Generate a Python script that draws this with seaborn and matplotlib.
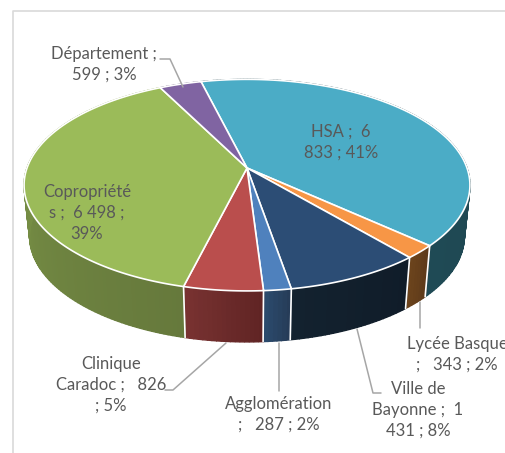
import numpy as np
import matplotlib
matplotlib.use("Agg")
import matplotlib.pyplot as plt
import seaborn as sns

categories = ["HSA", "Lycée Basque", "Ville de Bayonne", "Agglomération",
              "Clinique Caradoc", "Copropriétés", "Département"]
values = [6833, 343, 1431, 287, 826, 6498, 599]
top_colors = ["#4BACC6", "#F79646", "#2C4D75", "#4F81BD", "#BA4E4D", "#9BBB59", "#8064A2"]
wall_left = ["#1F4A55", "#6B431C", "#13222F", "#2B4A6C", "#783231", "#84A04C", "#5A4672"]
wall_right = ["#1D4049", "#5E3A1A", "#101C29", "#263C58", "#602424", "#66793C", "#4C3B60"]
labels = ["HSA ;  6\n833 ; 41%", "Lycée Basque\n;   343 ; 2%", "Ville de\nBayonne ;  1\n431 ; 8%",
          "Agglomération\n;   287 ; 2%", "Clinique\nCaradoc ;   826\n; 5%",
          "Copropriété\ns ;  6 498 ;\n39%", "Département ;\n599 ; 3%"]
label_xy = [(341, 142), (457, 354), (418, 410), (279, 414), (111, 385), (87, 213), (104, 64)]
leaders = [None,
           [(420, 302), (420, 328)],
           [(357, 329), (373, 393), (381, 393)],
           [(279, 343), (279, 391)],
           [(226, 343), (173, 390), (165, 390)],
           None,
           [(183, 87), (170, 59), (160, 59)]]

sns.set_theme(style="white")
plt.rcParams["font.family"] = ["Lato", "DejaVu Sans"]

CX, CY, A, B, K = 247.0, 168.0, 103.0, 220.0, 0.162
DEPTH, SHRINK, START = 51.0, 0.975, -14.0


def project(theta, r=1.0, low=False):
    u, v = r * np.sin(theta), r * np.cos(theta)
    x = B * u / (1 + K * v)
    y = CY - A * v / (1 + K * v)
    if low:
        return CX + SHRINK * x, y + DEPTH
    return CX + x, y


fig, ax = plt.subplots(figsize=(5.05, 4.53), dpi=100)
fig.subplots_adjust(0, 0, 1, 1)
ax.set_xlim(0, 505)
ax.set_ylim(453, 0)
ax.axis("off")

ax.plot([12.5, 12.5, 505], [453, 10.5, 10.5], color="#D9D9D9", lw=1.2)

fracs = np.array(values) / np.sum(values)
edges = np.radians(START) + 2 * np.pi * np.concatenate([[0], np.cumsum(fracs)])

for i in range(len(values)):
    th = np.linspace(edges[i], edges[i + 1], max(int(fracs[i] * 360), 3) + 1)
    c0, c1 = np.array(matplotlib.colors.to_rgb(wall_left[i])), np.array(matplotlib.colors.to_rgb(wall_right[i]))
    for j in range(len(th) - 1):
        t = 1 - j / max(len(th) - 2, 1)  # clockwise on the front runs right to left
        col = c0 * (1 - t) + c1 * t
        seg = np.array([th[j], th[j + 1]])
        xt, yt = project(seg)
        xb, yb = project(seg, low=True)
        ax.fill(np.r_[xt, xb[::-1]], np.r_[yt, yb[::-1]], facecolor=col, edgecolor=col, lw=1.0, zorder=2)
for e in edges:
    if np.cos(e) < 0:
        xt, yt = project(e)
        xb, yb = project(e, low=True)
        ax.plot([xt, xb], [yt, yb], color="white", lw=1.2, zorder=3)

for i in range(len(values)):
    th = np.linspace(edges[i], edges[i + 1], 120)
    x, y = project(th)
    ax.fill(np.r_[CX, x], np.r_[CY, y], facecolor=top_colors[i], edgecolor="white", lw=1.2,
            joinstyle="round", zorder=4)

for i, lab in enumerate(labels):
    ax.text(*label_xy[i], lab, ha="center", va="center", fontsize=12, color="#595959",
            linespacing=1.38, zorder=6)
    if leaders[i]:
        pts = np.array(leaders[i])
        ax.plot(pts[:, 0], pts[:, 1], color="#A6A6A6", lw=1.1, zorder=5)

fig.savefig("out.png", dpi=100, facecolor="white")
